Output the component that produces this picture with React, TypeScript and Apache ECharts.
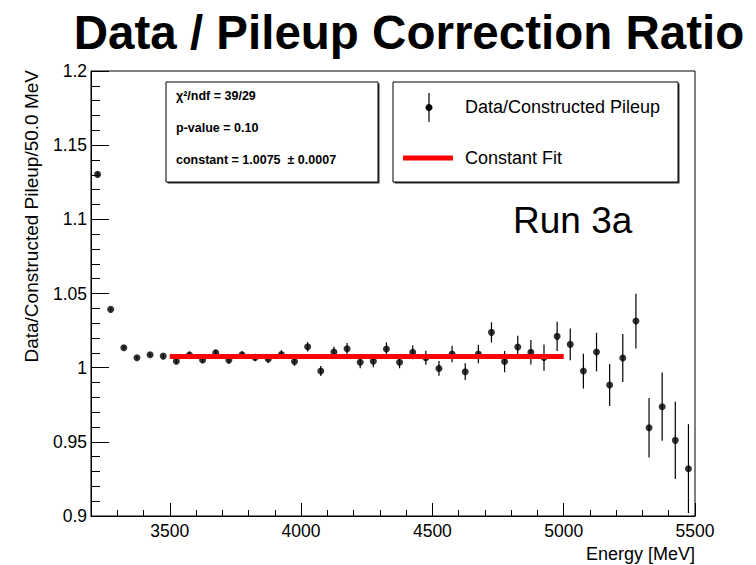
import React, { useEffect, useRef } from "react";
import * as echarts from "echarts";

const energies = [
  3225, 3275, 3325, 3375, 3425, 3475, 3525, 3575, 3625, 3675, 3725, 3775,
  3825, 3875, 3925, 3975, 4025, 4075, 4125, 4175, 4225, 4275, 4325, 4375,
  4425, 4475, 4525, 4575, 4625, 4675, 4725, 4775, 4825, 4875, 4925, 4975,
  5025, 5075, 5125, 5175, 5225, 5275, 5325, 5375, 5425, 5475,
];
const ratio = [
  1.1303, 1.0393, 1.0134, 1.0067, 1.0087, 1.0078, 1.0044, 1.0086, 1.0052,
  1.01, 1.0051, 1.0087, 1.0069, 1.0059, 1.0088, 1.0042, 1.0141, 0.9977,
  1.0105, 1.0128, 1.0036, 1.0044, 1.0126, 1.0036, 1.0104, 1.0067, 0.9995,
  1.0092, 0.9973, 1.0092, 1.0238, 1.0041, 1.0139, 1.0104, 1.0068, 1.0211,
  1.0157, 0.9977, 1.0105, 0.9883, 1.0065, 1.0314, 0.9595, 0.9737, 0.951,
  0.9319,
];
const ratioErr = [
  0.0015, 0.0012, 0.0012, 0.0012, 0.0013, 0.0014, 0.0016, 0.0018, 0.0019,
  0.0021, 0.0022, 0.0024, 0.0025, 0.0027, 0.0029, 0.003, 0.0032, 0.0034,
  0.0036, 0.0039, 0.004, 0.0042, 0.0045, 0.004, 0.0047, 0.0047, 0.005,
  0.0055, 0.0056, 0.0062, 0.0068, 0.0072, 0.0076, 0.0082, 0.0089, 0.0098,
  0.0107, 0.0117, 0.013, 0.0142, 0.0162, 0.0185, 0.02, 0.023, 0.026, 0.03,
];
const fitRange = [3500, 5000];
const fitConstant = 1.0075;
const xMajorTicks = [3500, 4000, 4500, 5000, 5500];
const statsLines = ["χ²/ndf = 39/29", "p-value = 0.10", "constant = 1.0075  ± 0.0007"];
const legendLabels = ["Data/Constructed Pileup", "Constant Fit"];

const FONT = "'Liberation Sans', Arial, Helvetica, sans-serif";

export default function App() {
  const ref = useRef<HTMLDivElement>(null);
  useEffect(() => {
    if (!ref.current) return;
    const chart = echarts.init(ref.current, undefined, { renderer: "svg" });
    const gridRect = { left: 91, right: 61, top: 71, bottom: 49 };
    const option: any = {
      animation: false,
      backgroundColor: "#fff",
      textStyle: { fontFamily: FONT },
      grid: [
        { ...gridRect, show: true, borderColor: "#000", borderWidth: 1, backgroundColor: "transparent" },
        { ...gridRect, show: false },
      ],
      xAxis: [
        {
          type: "value",
          gridIndex: 0,
          min: 3200,
          max: 5500,
          interval: 100,
          axisLine: { show: true, lineStyle: { color: "#000", width: 1 } },
          axisTick: { show: true, inside: true, length: 6, lineStyle: { color: "#000" } },
          axisLabel: {
            show: true,
            customValues: xMajorTicks,
            formatter: (v: number) => String(v),
            color: "#000",
            fontSize: 17.5,
            fontFamily: FONT,
            margin: 6,
          },
          splitLine: { show: false },
        },
        {
          type: "value",
          gridIndex: 1,
          position: "bottom",
          min: 3200,
          max: 5500,
          interval: 100,
          axisLine: { show: false },
          axisTick: { show: true, inside: true, length: 13, customValues: xMajorTicks, lineStyle: { color: "#000" } },
          axisLabel: { show: false },
          splitLine: { show: false },
        },
      ],
      yAxis: [
        {
          type: "value",
          gridIndex: 0,
          min: 0.9,
          max: 1.2,
          interval: 0.05,
          axisLine: { show: true, lineStyle: { color: "#000", width: 1 } },
          axisTick: { show: true, inside: true, length: 18, lineStyle: { color: "#000" } },
          minorTick: { show: true, splitNumber: 5, length: 9, lineStyle: { color: "#000" } },
          axisLabel: { color: "#000", fontSize: 17.5, fontFamily: FONT, margin: 4 },
          splitLine: { show: false },
        },
        {
          type: "value",
          gridIndex: 1,
          min: 0.9,
          max: 1.2,
          show: false,
        },
      ],
      series: [
        {
          type: "custom",
          xAxisIndex: 0,
          yAxisIndex: 0,
          clip: true,
          data: energies.map((x, i) => [x, ratio[i], ratioErr[i]]),
          encode: { x: 0, y: 1 },
          renderItem: (params: any, api: any) => {
            const x = api.value(0);
            const y = api.value(1);
            const e = api.value(2);
            const top = api.coord([x, y + e]);
            const bot = api.coord([x, y - e]);
            return {
              type: "line",
              shape: { x1: top[0], y1: top[1], x2: bot[0], y2: bot[1] },
              style: { stroke: "#000", lineWidth: 1.2 },
            };
          },
          z: 2,
        },
        {
          type: "scatter",
          xAxisIndex: 0,
          yAxisIndex: 0,
          data: energies.map((x, i) => [x, ratio[i]]),
          symbol: "circle",
          symbolSize: 7,
          itemStyle: { color: "#000" },
          z: 3,
        },
        {
          type: "line",
          xAxisIndex: 0,
          yAxisIndex: 0,
          data: fitRange.map((x) => [x, fitConstant]),
          symbol: "none",
          lineStyle: { color: "#ff0000", width: 5 },
          z: 4,
        },
      ],
      graphic: [
        {
          type: "text",
          x: 409,
          y: 32,
          style: {
            text: "Data / Pileup Correction Ratio",
            fontFamily: FONT,
            fontWeight: "bold",
            fontSize: 47.5,
            fill: "#000",
            align: "center",
            verticalAlign: "middle",
          },
        },
        // stats box
        { type: "rect", shape: { x: 167.5, y: 83.5, width: 212, height: 100 }, style: { fill: "#333" } },
        { type: "rect", shape: { x: 166, y: 82, width: 212, height: 100 }, style: { fill: "#fff", stroke: "#000", lineWidth: 1 } },
        ...statsLines.map((t, i) => ({
          type: "text",
          x: 176,
          y: [96, 127.5, 160][i],
          style: { text: t, fontFamily: FONT, fontWeight: "bold", fontSize: 12.5, fill: "#000", align: "left", verticalAlign: "middle" },
        })),
        // legend box
        { type: "rect", shape: { x: 394.5, y: 83.5, width: 285, height: 100 }, style: { fill: "#333" } },
        { type: "rect", shape: { x: 393, y: 82, width: 285, height: 100 }, style: { fill: "#fff", stroke: "#000", lineWidth: 1 } },
        { type: "line", shape: { x1: 429, y1: 93, x2: 429, y2: 122 }, style: { stroke: "#000", lineWidth: 1.2 } },
        { type: "circle", shape: { cx: 429, cy: 107.5, r: 3.5 }, style: { fill: "#000" } },
        { type: "line", shape: { x1: 403, y1: 158, x2: 453, y2: 158 }, style: { stroke: "#ff0000", lineWidth: 5 } },
        ...legendLabels.map((t, i) => ({
          type: "text",
          x: 465,
          y: [107, 158][i],
          style: { text: t, fontFamily: FONT, fontSize: 18, fill: "#000", align: "left", verticalAlign: "middle" },
        })),
        {
          type: "text",
          x: 513,
          y: 220,
          style: { text: "Run 3a", fontFamily: FONT, fontSize: 37, fill: "#000", align: "left", verticalAlign: "middle" },
        },
        {
          type: "text",
          x: 695,
          y: 554,
          style: { text: "Energy [MeV]", fontFamily: FONT, fontSize: 18, fill: "#000", align: "right", verticalAlign: "middle" },
        },
        {
          type: "text",
          x: 31,
          y: 70,
          rotation: Math.PI / 2,
          style: { text: "Data/Constructed Pileup/50.0 MeV", fontFamily: FONT, fontSize: 19, fill: "#000", align: "right", verticalAlign: "middle" },
        },
      ],
    };
    chart.setOption(option);
    return () => chart.dispose();
  }, []);
  return (
    <div
      ref={ref}
      style={{ position: "fixed", left: 0, top: 0, width: 756, height: 565, background: "#fff" }}
    />
  );
}
